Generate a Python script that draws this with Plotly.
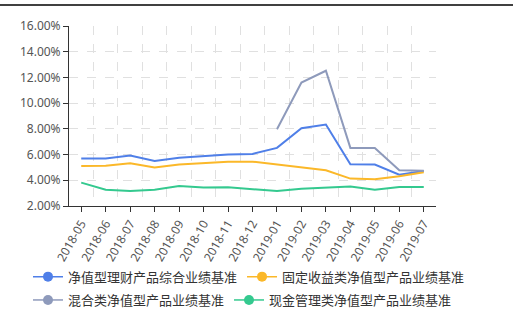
import plotly.graph_objects as go

months = ["2018-05", "2018-06", "2018-07", "2018-08", "2018-09", "2018-10", "2018-11",
          "2018-12", "2019-01", "2019-02", "2019-03", "2019-04", "2019-05", "2019-06", "2019-07"]

names = ["净值型理财产品综合业绩基准", "固定收益类净值型产品业绩基准",
         "混合类净值型产品业绩基准", "现金管理类净值型产品业绩基准"]

composite = [5.69, 5.70, 5.92, 5.50, 5.75, 5.90, 6.00, 6.05, 6.52, 8.05, 8.34, 5.25, 5.22, 4.44, 4.73]
fixed_income = [5.12, 5.14, 5.32, 4.99, 5.22, 5.35, 5.45, 5.45, 5.22, 4.99, 4.78, 4.13, 4.08, 4.31, 4.62]
hybrid = [None, None, None, None, None, None, None, None, 7.97, 11.60, 12.52, 6.52, 6.52, 4.78, 4.75]
cash_mgmt = [3.82, 3.27, 3.17, 3.27, 3.56, 3.43, 3.45, 3.30, 3.17, 3.35, 3.43, 3.51, 3.27, 3.48, 3.48]

series = [composite, fixed_income, hybrid, cash_mgmt]
colors = ["#4f7fe8", "#fbb829", "#8e9abb", "#34c98f"]
legend_ids = ["legend", "legend", "legend2", "legend2"]

y_ticks = [2, 4, 6, 8, 10, 12, 14, 16]

fig = go.Figure()

for name, vals, col in zip(names, series, colors):
    fig.add_trace(go.Scatter(x=months, y=vals, mode="lines", name=name,
                             line=dict(color=col, width=2), showlegend=False,
                             connectgaps=False, hoverinfo="skip"))

# legend-only entries (line + circle symbol)
for name, col, lg in zip(names, colors, legend_ids):
    fig.add_trace(go.Scatter(x=[None], y=[None], mode="lines+markers", name=name,
                             xaxis="x2", legend=lg,
                             line=dict(color=col, width=1.5),
                             marker=dict(color=col, size=10), showlegend=True))

W, H = 513, 318
ml, mr, mt, mb = 69, 5, 26, 111
gw = W - ml - mr
gh = H - mt - mb
plot_w = 367

def px_x(p):
    return (p - ml) / gw

def px_y(p):
    return (H - mb - p) / gh

tick_font = dict(family="Noto Sans, DejaVu Sans, sans-serif", size=12, color="#555")
legend_font = dict(family="Noto Sans CJK SC", size=13, color="#333")

fig.update_layout(
    width=W, height=H,
    margin=dict(l=ml, r=mr, t=mt, b=mb, pad=0),
    paper_bgcolor="white", plot_bgcolor="white",
    xaxis=dict(type="category", categoryorder="array", categoryarray=months,
               range=[-0.5, len(months) - 0.5], domain=[0, plot_w / gw],
               showgrid=False, showline=True, linecolor="#333", linewidth=1,
               ticks="outside", ticklen=5, tickcolor="#333", tickangle=-60,
               tickfont=tick_font, zeroline=False),
    xaxis2=dict(overlaying="x", anchor="y", type="linear",
                range=[-0.5, len(months) - 0.5], domain=[0, plot_w / gw],
                tick0=0.5, dtick=1, showgrid=True, gridcolor="#e0e0e0",
                griddash="dash", gridwidth=1, showticklabels=False, ticks="",
                showline=False, zeroline=False),
    yaxis=dict(range=[2, 16], tickvals=y_ticks,
               ticktext=[f"{v:.2f}%" for v in y_ticks],
               showgrid=True, gridcolor="#e0e0e0", griddash="dash", gridwidth=1,
               showline=True, linecolor="#333", linewidth=1,
               ticks="outside", ticklen=5, tickcolor="#333",
               tickfont=tick_font, zeroline=False),
    legend=dict(orientation="h", x=px_x(28), xanchor="left",
                y=px_y(276.7), yanchor="middle", font=legend_font,
                bgcolor="rgba(0,0,0,0)", itemwidth=30, tracegroupgap=0),
    legend2=dict(orientation="h", x=px_x(28), xanchor="left",
                 y=px_y(300), yanchor="middle", font=legend_font,
                 bgcolor="rgba(0,0,0,0)", itemwidth=30, tracegroupgap=0),
    shapes=[dict(type="line", xref="paper", yref="paper",
                 x0=px_x(0), x1=px_x(W), y0=px_y(5), y1=px_y(5),
                 line=dict(color="black", width=1.5))],
)

fig.write_html("out.html")
